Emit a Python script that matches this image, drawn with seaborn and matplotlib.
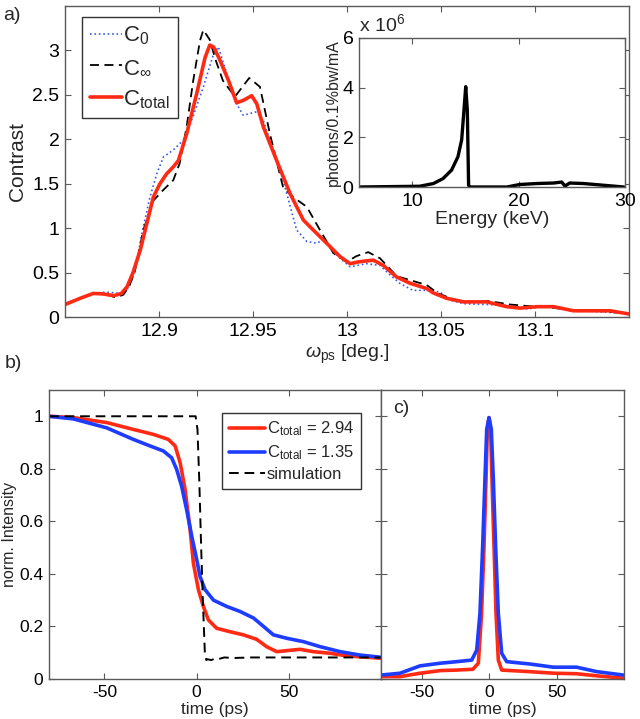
import numpy as np
import pandas as pd
import matplotlib
matplotlib.use("Agg")
import matplotlib.pyplot as plt
import seaborn as sns

# ---------------- panel a data ----------------
omega_total = [12.850, 12.858, 12.865, 12.870, 12.876, 12.880, 12.883, 12.886, 12.890, 12.8935,
               12.897, 12.9005, 12.904, 12.9076, 12.9103, 12.9147, 12.920, 12.9245, 12.927, 12.929,
               12.932, 12.937, 12.9413, 12.945, 12.9493, 12.952, 12.9555, 12.9626, 12.9697, 12.9768,
               12.9839, 12.9892, 12.9963, 13.0016, 13.0060, 13.014, 13.0193, 13.0264, 13.0335, 13.0424,
               13.046, 13.053, 13.062, 13.0743, 13.085, 13.092, 13.101, 13.110, 13.1204, 13.131,
               13.140, 13.150]
c_total = [0.14, 0.21, 0.265, 0.26, 0.24, 0.265, 0.34, 0.49, 0.75, 1.05,
           1.35, 1.50, 1.61, 1.69, 1.76, 2.06, 2.51, 2.92, 3.06, 3.04,
           2.91, 2.66, 2.41, 2.44, 2.49, 2.40, 2.14, 1.76, 1.39, 1.09,
           0.94, 0.83, 0.68, 0.60, 0.62, 0.64, 0.58, 0.45, 0.38, 0.32,
           0.27, 0.21, 0.17, 0.17, 0.116, 0.10, 0.116, 0.116, 0.07, 0.07,
           0.07, 0.034]

omega_inf = [12.850, 12.858, 12.866, 12.871, 12.877, 12.881, 12.884, 12.887, 12.8917, 12.897,
             12.9023, 12.9076, 12.911, 12.9147, 12.9182, 12.9218, 12.9236, 12.927, 12.930, 12.934,
             12.9404, 12.944, 12.948, 12.9537, 12.959, 12.966, 12.9714, 12.9786, 12.9856, 12.9927,
             12.9998, 13.005, 13.0113, 13.0176, 13.0264, 13.0335, 13.0424, 13.048, 13.055, 13.062,
             13.075, 13.087, 13.098, 13.105, 13.118, 13.133, 13.150]
c_inf = [0.15, 0.21, 0.27, 0.26, 0.22, 0.25, 0.34, 0.50, 0.98, 1.31,
         1.43, 1.54, 1.73, 2.14, 2.66, 3.11, 3.23, 3.12, 2.90, 2.66,
         2.48, 2.58, 2.69, 2.59, 2.06, 1.46, 1.35, 1.24, 0.98, 0.72,
         0.62, 0.685, 0.73, 0.66, 0.46, 0.415, 0.36, 0.27, 0.21, 0.17,
         0.18, 0.14, 0.12, 0.12, 0.08, 0.07, 0.04]

omega_0 = [12.850, 12.858, 12.866, 12.872, 12.877, 12.881, 12.884, 12.887, 12.8910, 12.8952,
           12.8988, 12.9023, 12.9076, 12.913, 12.918, 12.9236, 12.929, 12.9316, 12.936, 12.9413,
           12.9448, 12.952, 12.9555, 12.9608, 12.966, 12.9732, 12.9786, 12.984, 12.988, 12.9927,
           13.0016, 13.0105, 13.0176, 13.022, 13.028, 13.035, 13.0424, 13.0495, 13.055, 13.062,
           13.075, 13.087, 13.096, 13.105, 13.118, 13.133, 13.150]
c_0 = [0.15, 0.21, 0.27, 0.28, 0.27, 0.26, 0.34, 0.50, 0.95, 1.35,
       1.61, 1.80, 1.88, 1.99, 2.25, 2.59, 2.96, 3.04, 2.74, 2.40,
       2.27, 2.31, 2.21, 1.88, 1.54, 0.98, 0.85, 0.83, 0.88, 0.73,
       0.565, 0.60, 0.58, 0.49, 0.38, 0.30, 0.30, 0.28, 0.19, 0.15,
       0.14, 0.13, 0.09, 0.12, 0.075, 0.06, 0.04]

a_xticks = [12.9, 12.95, 13.0, 13.05, 13.1]
a_xticklabels = ['12.9', '12.95', '13', '13.05', '13.1']
a_yticks = [0, 0.5, 1, 1.5, 2, 2.5, 3]
a_yticklabels = ['0', '0.5', '1', '1.5', '2', '2.5', '3']

# inset spectrum (photons/0.1%bw/mA, in units of 1e6)
energy_kev = [5.0, 10.7, 12.0, 12.9, 13.7, 14.3, 14.65, 14.87, 15.03, 15.18,
              15.3, 15.43, 18.9, 20.1, 21.7, 23.3, 24.05, 24.36, 24.8, 26.1,
              28.0, 29.9]
flux_1e6 = [0.0, 0.03, 0.14, 0.34, 0.68, 1.22, 1.90, 3.12, 4.04, 3.10,
            0.07, 0.0, 0.0, 0.10, 0.14, 0.16, 0.20, 0.04, 0.16, 0.14,
            0.07, 0.0]

# ---------------- panel b data ----------------
t_red_b = [-80, -66.8, -48.7, -34.3, -23.4, -15.3, -11.6, -8.9, -6.2, -3.5,
           -1.7, 1.0, 3.7, 6.4, 10.9, 18.1, 25.4, 32.6, 38.0, 43.5,
           48.9, 56.1, 63.3, 72.4, 81.4, 92.2, 99.5]
i_red_b = [1.0, 0.995, 0.976, 0.95, 0.931, 0.912, 0.887, 0.823, 0.72, 0.569,
           0.44, 0.34, 0.276, 0.225, 0.193, 0.18, 0.168, 0.151, 0.123, 0.104,
           0.108, 0.113, 0.104, 0.098, 0.088, 0.083, 0.079]

t_blue_b = [-80, -66.8, -48.7, -34.3, -25.2, -18.0, -13.5, -10.8, -8.1, -5.4,
            -2.6, 0.1, 1.9, 4.6, 9.2, 16.4, 23.6, 30.9, 36.3, 41.7,
            48.9, 58.0, 67.0, 77.9, 88.7, 99.5]
i_blue_b = [1.0, 0.99, 0.956, 0.912, 0.887, 0.868, 0.842, 0.798, 0.734, 0.645,
            0.543, 0.454, 0.39, 0.34, 0.30, 0.276, 0.257, 0.232, 0.20, 0.168,
            0.155, 0.142, 0.123, 0.104, 0.091, 0.083]

t_sim = [-80, -0.5, 0.5, 1.5, 2.5, 3.5, 4.5, 5.3, 6.0, 8.0, 10.0, 12.0, 15.0, 20.0, 30.0, 100.0]
i_sim = [1.0, 1.0, 0.95, 0.75, 0.50, 0.28, 0.10, 0.072, 0.075, 0.072, 0.078, 0.076, 0.082, 0.08, 0.082, 0.082]

# ---------------- panel c data ----------------
t_blue_c = [-80, -65.9, -51.1, -36.3, -23.9, -12.8, -9.1, -6.7, -4.7, -3.0,
            -1.7, 0.0, 1.7, 3.2, 4.9, 6.9, 9.4, 13.1, 30.4, 47.6,
            64.9, 79.8, 99.5]
i_blue_c = [0.015, 0.022, 0.05, 0.06, 0.066, 0.072, 0.11, 0.25, 0.505, 0.76,
            0.95, 0.995, 0.95, 0.76, 0.505, 0.25, 0.098, 0.066, 0.057, 0.045,
            0.045, 0.028, 0.015]

t_red_c = [-80, -66, -51, -36, -24, -12, -7.9, -5.5, -3.7, -2.2,
           -1.2, 0.0, 1.2, 2.2, 3.7, 5.2, 6.9, 9.4, 30.0, 48.0,
           65.0, 80.0, 99.5]
i_red_c = [0.009, 0.009, 0.022, 0.032, 0.034, 0.037, 0.06, 0.25, 0.505, 0.76,
           0.95, 0.995, 0.95, 0.76, 0.505, 0.25, 0.072, 0.034, 0.028, 0.022,
           0.02, 0.012, 0.003]

b_xticks = [-50, 0, 50]
b_xticklabels = ['-50', '0', '50']
b_yticks = [0, 0.2, 0.4, 0.6, 0.8, 1.0]
b_yticklabels = ['0', '0.2', '0.4', '0.6', '0.8', '1']

# ---------------- style ----------------
sns.set_theme(style="ticks")
plt.rcParams['font.family'] = ['Liberation Sans', 'DejaVu Sans']
plt.rcParams['mathtext.fontset'] = 'custom'
plt.rcParams['mathtext.rm'] = 'Liberation Sans'
plt.rcParams['mathtext.it'] = 'Liberation Sans:italic'
plt.rcParams['mathtext.bf'] = 'Liberation Sans:bold'

RED = '#ff2a14'
BLUE = '#1e3cff'
DOT_BLUE = '#3a5ce8'
SPINE = '#5a5a5a'

W, H = 640, 719
fig = plt.figure(figsize=(W / 100, H / 100), dpi=100)


def frac(left, top, right, bottom):
    return [left / W, 1 - bottom / H, (right - left) / W, (bottom - top) / H]


def style(ax, fs):
    ax.tick_params(direction='in', top=True, right=True, length=4, width=0.8,
                   color=SPINE, labelsize=fs, pad=4, labelcolor='black')
    for s in ax.spines.values():
        s.set_color(SPINE)
        s.set_linewidth(1.0)


ax_a = fig.add_axes(frac(65, 6, 629, 317))
ax_in = fig.add_axes(frac(359, 38, 625, 187))
ax_b = fig.add_axes(frac(49, 390, 381, 679))
ax_c = fig.add_axes(frac(381, 390, 624, 679))

# ----- panel a -----
df0 = pd.DataFrame({'omega': omega_0, 'C': c_0})
dfi = pd.DataFrame({'omega': omega_inf, 'C': c_inf})
dft = pd.DataFrame({'omega': omega_total, 'C': c_total})
sns.lineplot(data=df0, x='omega', y='C', ax=ax_a, color=DOT_BLUE, lw=1.2,
             linestyle=':', label='C$_0$', estimator=None, sort=False)
sns.lineplot(data=dfi, x='omega', y='C', ax=ax_a, color='black', lw=1.3,
             linestyle=(0, (5, 3)), label=r'C$_\infty$', estimator=None, sort=False)
sns.lineplot(data=dft, x='omega', y='C', ax=ax_a, color=RED, lw=2.6,
             label=r'C$_{\mathrm{total}}$', estimator=None, sort=False)
ax_a.set_xlim(12.85, 13.15)
ax_a.set_ylim(0, 3.5)
ax_a.set_xticks(a_xticks)
ax_a.set_xticklabels(a_xticklabels)
ax_a.set_yticks(a_yticks)
ax_a.set_yticklabels(a_yticklabels)
style(ax_a, 14)
ax_a.set_xlabel(r'$\omega_{\mathrm{ps}}$ [deg.]', fontsize=14, labelpad=2)
ax_a.set_ylabel('Contrast', fontsize=15, labelpad=4)
leg = ax_a.legend(loc='upper left', bbox_to_anchor=(0.030, 0.966), borderaxespad=0,
                  fontsize=16, frameon=True, fancybox=False, framealpha=1,
                  edgecolor='#333333', handlelength=1.45, handletextpad=0.05,
                  labelspacing=0.45, borderpad=0.35)
leg.get_frame().set_linewidth(1.0)

# ----- inset -----
dfs = pd.DataFrame({'E': energy_kev, 'S': flux_1e6})
sns.lineplot(data=dfs, x='E', y='S', ax=ax_in, color='black', lw=2.4,
             estimator=None, sort=False)
ax_in.set_facecolor('white')
ax_in.set_xlim(5, 30)
ax_in.set_ylim(0, 6)
ax_in.set_xticks([10, 20, 30])
ax_in.set_xticklabels(['10', '20', '30'])
ax_in.set_yticks([0, 2, 4, 6])
ax_in.set_yticklabels(['0', '2', '4', '6'])
style(ax_in, 14)
ax_in.set_xlabel('Energy (keV)', fontsize=14, labelpad=1)
ax_in.set_ylabel('photons/0.1%bw/mA', fontsize=11.5, labelpad=1)
ax_in.text(0.0, 1.02, r'x 10$^6$', transform=ax_in.transAxes, fontsize=14,
           ha='left', va='bottom')

# ----- panel b -----
dfr = pd.DataFrame({'t': t_red_b, 'I': i_red_b})
dfb = pd.DataFrame({'t': t_blue_b, 'I': i_blue_b})
dfsim = pd.DataFrame({'t': t_sim, 'I': i_sim})
sns.lineplot(data=dfr, x='t', y='I', ax=ax_b, color=RED, lw=2.6,
             label=r'C$_{\mathrm{total}}$ = 2.94', estimator=None, sort=False)
sns.lineplot(data=dfb, x='t', y='I', ax=ax_b, color=BLUE, lw=2.6,
             label=r'C$_{\mathrm{total}}$ = 1.35', estimator=None, sort=False)
sns.lineplot(data=dfsim, x='t', y='I', ax=ax_b, color='black', lw=1.4,
             linestyle=(0, (5, 3)), label='simulation', estimator=None, sort=False)
ax_b.set_xlim(-80, 100)
ax_b.set_ylim(0, 1.1)
ax_b.set_xticks(b_xticks)
ax_b.set_xticklabels(b_xticklabels)
ax_b.set_yticks(b_yticks)
ax_b.set_yticklabels(b_yticklabels)
style(ax_b, 12.5)
ax_b.set_xlabel('time (ps)', fontsize=12.5, labelpad=2)
ax_b.set_ylabel('norm. Intensity', fontsize=11.5, labelpad=2)
legb = ax_b.legend(loc='upper left', bbox_to_anchor=(0.521, 0.92), borderaxespad=0,
                   fontsize=12, frameon=True, fancybox=False, framealpha=1,
                   edgecolor='#333333', handlelength=2.2, handletextpad=0.1,
                   labelspacing=0.3, borderpad=0.4)
legb.get_frame().set_linewidth(1.0)

# ----- panel c -----
dfrc = pd.DataFrame({'t': t_red_c, 'I': i_red_c})
dfbc = pd.DataFrame({'t': t_blue_c, 'I': i_blue_c})
sns.lineplot(data=dfrc, x='t', y='I', ax=ax_c, color=RED, lw=2.6,
             estimator=None, sort=False)
sns.lineplot(data=dfbc, x='t', y='I', ax=ax_c, color=BLUE, lw=2.6,
             estimator=None, sort=False)
ax_c.set_xlim(-80, 100)
ax_c.set_ylim(0, 1.1)
ax_c.set_xticks(b_xticks)
ax_c.set_xticklabels(b_xticklabels)
ax_c.set_yticks(b_yticks)
ax_c.set_yticklabels([])
style(ax_c, 12.5)
ax_c.set_xlabel('time (ps)', fontsize=12.5, labelpad=2)
ax_c.set_ylabel('')
ax_c.text(0.05, 0.935, 'c)', transform=ax_c.transAxes, fontsize=14,
          ha='left', va='center')

fig.text(3 / W, 1 - 16 / H, 'a)', fontsize=14, ha='left', va='center')
fig.text(5 / W, 1 - 364 / H, 'b)', fontsize=14, ha='left', va='center')

fig.savefig('out.png', dpi=100)
